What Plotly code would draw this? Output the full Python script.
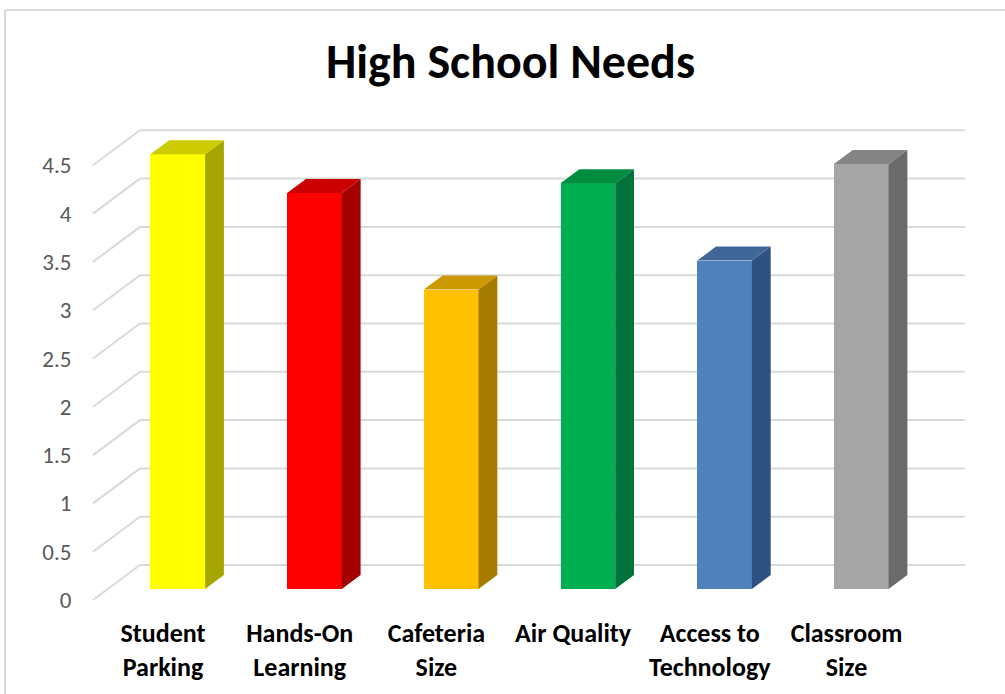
import plotly.graph_objects as go

# ---------------- data ----------------
categories = ["Student<br>Parking", "Hands-On<br>Learning", "Cafeteria<br>Size",
              "Air Quality", "Access to<br>Technology", "Classroom<br>Size"]
values = [4.5, 4.1, 3.1, 4.2, 3.4, 4.4]
front_colors = ["#FFFF00", "#FF0000", "#FFC000", "#00B050", "#4F81BD", "#A5A5A5"]
top_colors = ["#CCCC00", "#CC0000", "#CC9A00", "#008D40", "#3F6797", "#848484"]
side_colors = ["#A6A600", "#A30000", "#A67C00", "#00733A", "#2F5182", "#6B6B6B"]
y_ticks = [0, 0.5, 1, 1.5, 2, 2.5, 3, 3.5, 4, 4.5]
y_tick_text = ["0", "0.5", "1", "1.5", "2", "2.5", "3", "3.5", "4", "4.5"]

# ---------------- layout geometry (pixels) ----------------
W, H = 1005, 694
ML, MR, MT, MB = 80, 25, 100, 79
PW, PH = W - ML - MR, H - MT - MB
px_per_cat = 136.7
px_per_val = 96.6
cat0_px = 163.0        # x pixel of first category on the front plane
val0_px = 600.0        # y pixel of value 0 on the front plane
x0 = -(cat0_px - ML) / px_per_cat
x1 = x0 + PW / px_per_cat
y0 = -((H - MB) - val0_px) / px_per_val
y1 = y0 + PH / px_per_val

# oblique depth (front plane -> back wall)
Dx = 47 / px_per_cat
Dy = 35 / px_per_val
d_bar = 0.314          # depth of bar front face
t_bar = 0.40           # bar depth
bar_w = 0.40
wall_left = (93 - cat0_px) / px_per_cat
wall_right = (965 - cat0_px) / px_per_cat

fig = go.Figure()

# front faces as bars
xs = [i + d_bar * Dx for i in range(len(values))]
fig.add_trace(go.Bar(
    x=xs, y=values, base=[d_bar * Dy] * len(values), width=bar_w,
    marker=dict(color=front_colors, line=dict(width=0)),
    hoverinfo="skip", showlegend=False,
))

# side and top faces
for i, v in enumerate(values):
    c = xs[i]
    b = d_bar * Dy
    xr = c + bar_w / 2
    xl = c - bar_w / 2
    fig.add_trace(go.Scatter(
        x=[xr, xr + t_bar * Dx, xr + t_bar * Dx, xr, xr],
        y=[b, b + t_bar * Dy, v + b + t_bar * Dy, v + b, b],
        mode="lines", fill="toself", fillcolor=side_colors[i],
        line=dict(width=0, color=side_colors[i]), hoverinfo="skip", showlegend=False))
    fig.add_trace(go.Scatter(
        x=[xl, xr, xr + t_bar * Dx, xl + t_bar * Dx, xl],
        y=[v + b, v + b, v + b + t_bar * Dy, v + b + t_bar * Dy, v + b],
        mode="lines", fill="toself", fillcolor=top_colors[i],
        line=dict(width=0, color=top_colors[i]), hoverinfo="skip", showlegend=False))

# gridlines (left wall + back wall) drawn below the bars
shapes = []
grid_col = "#D9D9D9"
for v in y_ticks:
    shapes.append(dict(type="line", xref="x", yref="y", layer="below",
                       x0=wall_left, y0=v, x1=wall_left + Dx, y1=v + Dy,
                       line=dict(color=grid_col, width=2)))
    shapes.append(dict(type="line", xref="x", yref="y", layer="below",
                       x0=wall_left + Dx, y0=v + Dy, x1=wall_right, y1=v + Dy,
                       line=dict(color=grid_col, width=2)))

# chart border (left and top edges)
bx = (5 - ML) / PW
by = 1 + (MT - 10) / PH
shapes.append(dict(type="line", xref="paper", yref="paper", x0=bx, y0=-1, x1=bx, y1=by,
                   line=dict(color="#D9D9D9", width=2)))
shapes.append(dict(type="line", xref="paper", yref="paper", x0=bx, y0=by, x1=2, y1=by,
                   line=dict(color="#D9D9D9", width=2)))

FONT = "Calibri, Carlito, Lato, sans-serif"
fig.update_layout(
    width=W, height=H,
    margin=dict(l=ML, r=MR, t=MT, b=MB, pad=0),
    paper_bgcolor="white", plot_bgcolor="white",
    shapes=shapes,
    title=dict(text="<b>High School Needs</b>", x=510.5 / W, xanchor="center",
               y=1 - 61 / H, yanchor="middle",
               font=dict(family=FONT, size=48, color="black")),
    xaxis=dict(range=[x0, x1], tickmode="array", tickvals=list(range(len(categories))),
               ticktext=["<b>%s</b>" % c for c in categories],
               showgrid=False, zeroline=False, showline=False, ticks="",
               tickfont=dict(family=FONT, size=26, color="black"),
               fixedrange=True),
    yaxis=dict(range=[y0, y1], tickmode="array", tickvals=y_ticks, ticktext=y_tick_text,
               showgrid=False, zeroline=False, showline=False,
               ticks="outside", ticklen=3, tickcolor="rgba(0,0,0,0)",
               tickfont=dict(family=FONT, size=23, color="#595959"),
               fixedrange=True),
    bargap=0,
)

fig.write_html("out.html")
